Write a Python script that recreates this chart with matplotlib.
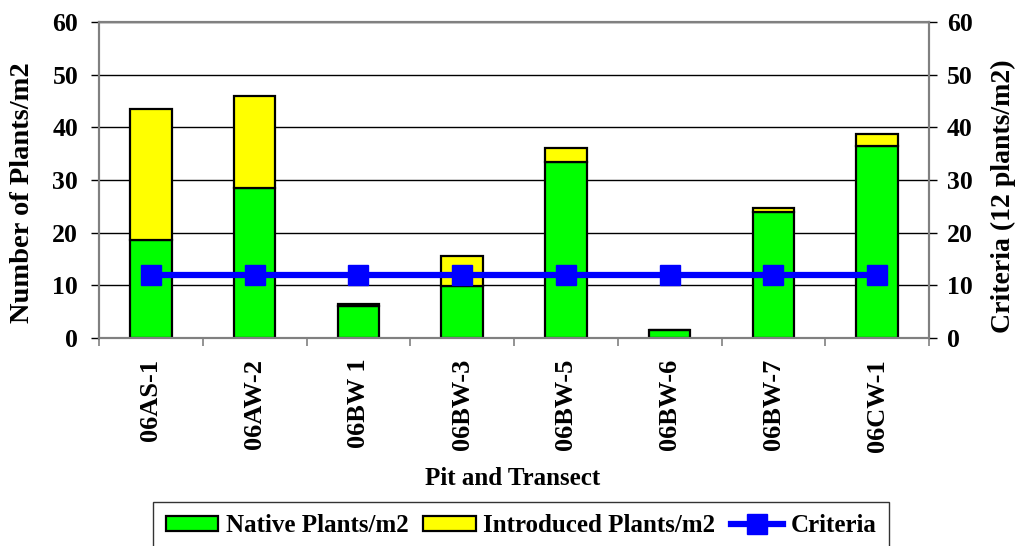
import matplotlib
matplotlib.use("Agg")
import matplotlib.pyplot as plt
import numpy as np
from matplotlib.ticker import FixedLocator, NullFormatter

plt.rcParams['font.family'] = ['Liberation Serif', 'DejaVu Serif']
plt.rcParams['font.weight'] = 'bold'

categories = ["06AS-1", "06AW-2", "06BW 1", "06BW-3", "06BW-5", "06BW-6", "06BW-7", "06CW-1"]
native = [18.7, 28.5, 6.0, 9.9, 33.4, 1.5, 23.9, 36.5]
introduced = [24.7, 17.4, 0.4, 5.7, 2.7, 0.0, 0.8, 2.3]
criteria = [12, 12, 12, 12, 12, 12, 12, 12]
yticks = [0, 10, 20, 30, 40, 50, 60]

W, H = 1018, 546
fig = plt.figure(figsize=(W/100, H/100), dpi=100)
L, R, T, B = 99, 929, 22, 338
ax = fig.add_axes([L/W, 1 - B/H, (R-L)/W, (B-T)/H])
x = np.arange(len(categories))

ax.set_ylim(0, 60)
ax.set_xlim(-0.5, len(categories) - 0.5)
ax.set_yticks(yticks)
ax.yaxis.grid(True, color='black', linewidth=1.0)
ax.set_axisbelow(True)

b1 = ax.bar(x, native, width=0.4, color='#00FF00', edgecolor='black', linewidth=1.6, zorder=2)
b2 = ax.bar(x, introduced, bottom=native, width=0.4, color='#FFFF00', edgecolor='black', linewidth=1.6, zorder=2)

ax2 = ax.twinx()
ax2.set_ylim(0, 60)
ax2.set_yticks(yticks)
ln, = ax2.plot(x, criteria, color='#0000FF', linewidth=4.5, marker='s', markersize=14, zorder=5)

for a in (ax, ax2):
    for s in a.spines.values():
        s.set_color('#808080')
        s.set_linewidth(1.5)
ax.tick_params(axis='y', direction='out', length=6, width=1, color='black', labelsize=18.5, pad=9)
ax2.tick_params(axis='y', direction='out', length=6, width=1, color='black', labelsize=18.5, pad=7)

ax.xaxis.set_major_locator(FixedLocator(np.arange(-0.5, len(categories), 1.0)))
ax.xaxis.set_major_formatter(NullFormatter())
ax.xaxis.set_minor_locator(FixedLocator(x))
ax.set_xticklabels(categories, minor=True, rotation=90, fontsize=19, fontweight='bold')
ax.tick_params(axis='x', which='major', direction='out', length=6, width=1.2, color='#808080')
ax.tick_params(axis='x', which='minor', length=0, pad=15)

ax.set_ylabel("Number of Plants/m2", fontsize=20.5, fontweight='bold', va='center', ha='center')
ax.yaxis.set_label_coords((23 - L)/(R - L), (B - 193)/(B - T))
ax2.set_ylabel("Criteria (12 plants/m2)", fontsize=20, fontweight='bold', rotation=90,
               va='center', ha='center')
ax2.yaxis.set_label_coords((1003 - L)/(R - L), (B - 196)/(B - T))
ax.set_xlabel("Pit and Transect", fontsize=18, fontweight='bold')
ax.xaxis.set_label_coords((513 - L)/(R - L), -(467 - B)/(B - T))

leg = fig.legend([b1, b2, ln], ["Native Plants/m2", "Introduced Plants/m2", "Criteria"],
                 loc='upper center', bbox_to_anchor=(521/W, 1 - 502/H), ncol=3, frameon=True,
                 fancybox=False, edgecolor='black', handlelength=2.1, handleheight=0.55,
                 handletextpad=0.3, columnspacing=0.6, borderpad=0.5, borderaxespad=0,
                 prop={'weight': 'bold', 'size': 18})
leg.get_frame().set_linewidth(1.0)

fig.savefig("out.png", dpi=100)
